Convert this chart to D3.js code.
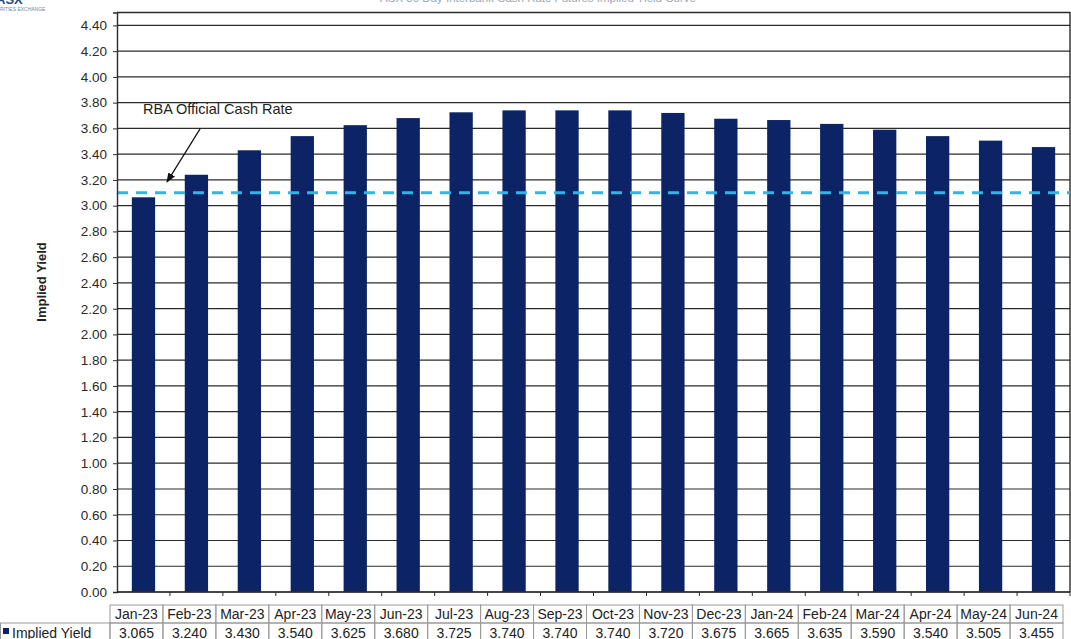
<!DOCTYPE html>
<html>
<head>
<meta charset="utf-8">
<script src="https://cdn.jsdelivr.net/npm/d3@7"></script>
<style>
  html, body { margin: 0; padding: 0; background: #fff; }
  svg { display: block; font-family: Arial, "Liberation Sans", sans-serif; }
</style>
</head>
<body>
<svg id="chart" width="1071" height="639"></svg>
<script>
// Monthly contracts and their implied yields (%)
const months = ["Jan-23","Feb-23","Mar-23","Apr-23","May-23","Jun-23","Jul-23","Aug-23","Sep-23",
                "Oct-23","Nov-23","Dec-23","Jan-24","Feb-24","Mar-24","Apr-24","May-24","Jun-24"];
const impliedYield = [3.065, 3.240, 3.430, 3.540, 3.625, 3.680, 3.725, 3.740, 3.740,
                      3.740, 3.720, 3.675, 3.665, 3.635, 3.590, 3.540, 3.505, 3.455];
const cashRate = 3.10;
const yTicks = [0.00,0.20,0.40,0.60,0.80,1.00,1.20,1.40,1.60,1.80,2.00,2.20,
                2.40,2.60,2.80,3.00,3.20,3.40,3.60,3.80,4.00,4.20,4.40];
const seriesName = "Implied Yield";
const cashRateLabel = "RBA Official Cash Rate";
const titleText = "ASX 30 Day Interbank Cash Rate Futures Implied Yield Curve";

const svg = d3.select("#chart");
const plotL = 117, plotR = 1070, plotT = 12.5, plotB = 592;
const barColor = "#0c2465";

const x = d3.scaleBand().domain(months).range([plotL, plotR]).paddingInner(0.56).paddingOuter(0.28);
const y = d3.scaleLinear().domain([0, 4.5]).range([plotB, plotT]);

// Header fragments along the top edge
svg.append("text").attr("x", 538).attr("y", 1.5).attr("text-anchor", "middle")
  .attr("font-size", 11.5).attr("fill", "#9aa8b4").text(titleText);
svg.append("text").attr("x", -4).attr("y", 4).attr("font-size", 13).attr("font-weight", "bold")
  .attr("fill", "#2a4f86").text("ASX");
svg.append("text").attr("x", -14).attr("y", 11).attr("font-size", 5).attr("fill", "#6b8aa8")
  .text("SECURITIES EXCHANGE");

// Gridlines
svg.append("g").selectAll("line").data(yTicks).join("line")
  .attr("x1", plotL).attr("x2", plotR)
  .attr("y1", d => y(d)).attr("y2", d => y(d))
  .attr("stroke", "#2b2b2b").attr("stroke-width", 1.2);

// Plot frame: top and right edges
svg.append("path")
  .attr("d", `M${plotL},${plotT}H${plotR}V${plotB}`)
  .attr("fill", "none").attr("stroke", "#2b2b2b").attr("stroke-width", 1.4);

// Bars
svg.append("g").selectAll("rect").data(months).join("rect")
  .attr("x", d => x(d))
  .attr("width", x.bandwidth())
  .attr("y", (d, i) => y(impliedYield[i]))
  .attr("height", (d, i) => y(0) - y(impliedYield[i]))
  .attr("fill", barColor);

// Cash rate reference line with soft shadow
const defs = svg.append("defs");
defs.append("filter").attr("id", "soft").attr("x", "-5%").attr("y", "-200%").attr("width", "110%").attr("height", "500%")
  .append("feGaussianBlur").attr("stdDeviation", 1.3);
svg.append("line")
  .attr("x1", plotL).attr("x2", plotR)
  .attr("y1", y(cashRate) + 4.5).attr("y2", y(cashRate) + 4.5)
  .attr("stroke", "#9c9c9c").attr("stroke-width", 3.5)
  .attr("stroke-dasharray", "11,8").attr("filter", "url(#soft)");
svg.append("line")
  .attr("x1", plotL).attr("x2", plotR)
  .attr("y1", y(cashRate)).attr("y2", y(cashRate))
  .attr("stroke", "#33b4e6").attr("stroke-width", 3)
  .attr("stroke-dasharray", "11,8");

// Y axis
const yAxis = svg.append("g").attr("transform", `translate(${plotL},0)`)
  .call(d3.axisLeft(y).tickValues(yTicks).tickFormat(d3.format(".2f")).tickSize(4).tickPadding(6));
yAxis.select(".domain").attr("stroke", "#2b2b2b").attr("stroke-width", 1.4);
yAxis.selectAll(".tick line").attr("stroke", "#2b2b2b");
yAxis.selectAll("text").attr("font-size", 13.5).attr("fill", "#2a2a2a")
  .attr("font-family", "Arial, 'Liberation Sans', sans-serif");

// X axis baseline with tick marks between categories
svg.append("line").attr("x1", plotL).attr("x2", plotR).attr("y1", plotB).attr("y2", plotB)
  .attr("stroke", "#2b2b2b").attr("stroke-width", 1.4);
const step = x.step();
svg.append("g").selectAll("line").data(months).join("line")
  .attr("x1", (d, i) => plotL + (i + 1) * step).attr("x2", (d, i) => plotL + (i + 1) * step)
  .attr("y1", plotB).attr("y2", plotB + 4)
  .attr("stroke", "#2b2b2b");

// Y axis title
svg.append("text")
  .attr("transform", "translate(46,282) rotate(-90)")
  .attr("text-anchor", "middle").attr("font-size", 13).attr("font-weight", "bold")
  .attr("fill", "#222").text(seriesName);

// Annotation with arrow
defs.append("marker").attr("id", "arrow").attr("viewBox", "0 0 10 10")
  .attr("refX", 9).attr("refY", 5).attr("markerWidth", 7).attr("markerHeight", 7)
  .attr("orient", "auto")
  .append("path").attr("d", "M0,1L10,5L0,9Z").attr("fill", "#111");
svg.append("text").attr("x", 143).attr("y", 114).attr("font-size", 14.5)
  .attr("fill", "#222").text(cashRateLabel);
svg.append("line").attr("x1", 200).attr("y1", 129).attr("x2", 167).attr("y2", 182)
  .attr("stroke", "#111").attr("stroke-width", 1.4).attr("marker-end", "url(#arrow)");

// Data table beneath the axis
const tableShift = -7;
const rowTop = 605, rowMid = 623, rowBot = 642;
const table = svg.append("g");
const cellX = (i) => plotL + i * step + tableShift;
table.selectAll("rect.head").data(months).join("rect").attr("class", "head")
  .attr("x", (d, i) => cellX(i)).attr("y", rowTop)
  .attr("width", step).attr("height", rowMid - rowTop)
  .attr("fill", "none").attr("stroke", "#9a9a9a");
table.selectAll("rect.val").data(months).join("rect").attr("class", "val")
  .attr("x", (d, i) => cellX(i)).attr("y", rowMid)
  .attr("width", step).attr("height", rowBot - rowMid)
  .attr("fill", "none").attr("stroke", "#9a9a9a");
table.append("rect").attr("x", 0.5).attr("y", rowMid).attr("width", cellX(0) - 0.5)
  .attr("height", rowBot - rowMid).attr("fill", "none").attr("stroke", "#9a9a9a");
table.selectAll("text.head").data(months).join("text").attr("class", "head")
  .attr("x", (d, i) => cellX(i) + step / 2).attr("y", rowMid - 4.5)
  .attr("text-anchor", "middle").attr("font-size", 14).attr("fill", "#222").text(d => d);
table.selectAll("text.val").data(impliedYield).join("text").attr("class", "val")
  .attr("x", (d, i) => cellX(i) + step / 2).attr("y", rowBot - 4.5)
  .attr("text-anchor", "middle").attr("font-size", 14).attr("fill", "#222")
  .text(d => d3.format(".3f")(d));
table.append("rect").attr("x", 3).attr("y", 628).attr("width", 6).attr("height", 6).attr("fill", barColor);
table.append("text").attr("x", 12).attr("y", rowBot - 4.5).attr("font-size", 14).attr("fill", "#222")
  .text(seriesName);
</script>
</body>
</html>
